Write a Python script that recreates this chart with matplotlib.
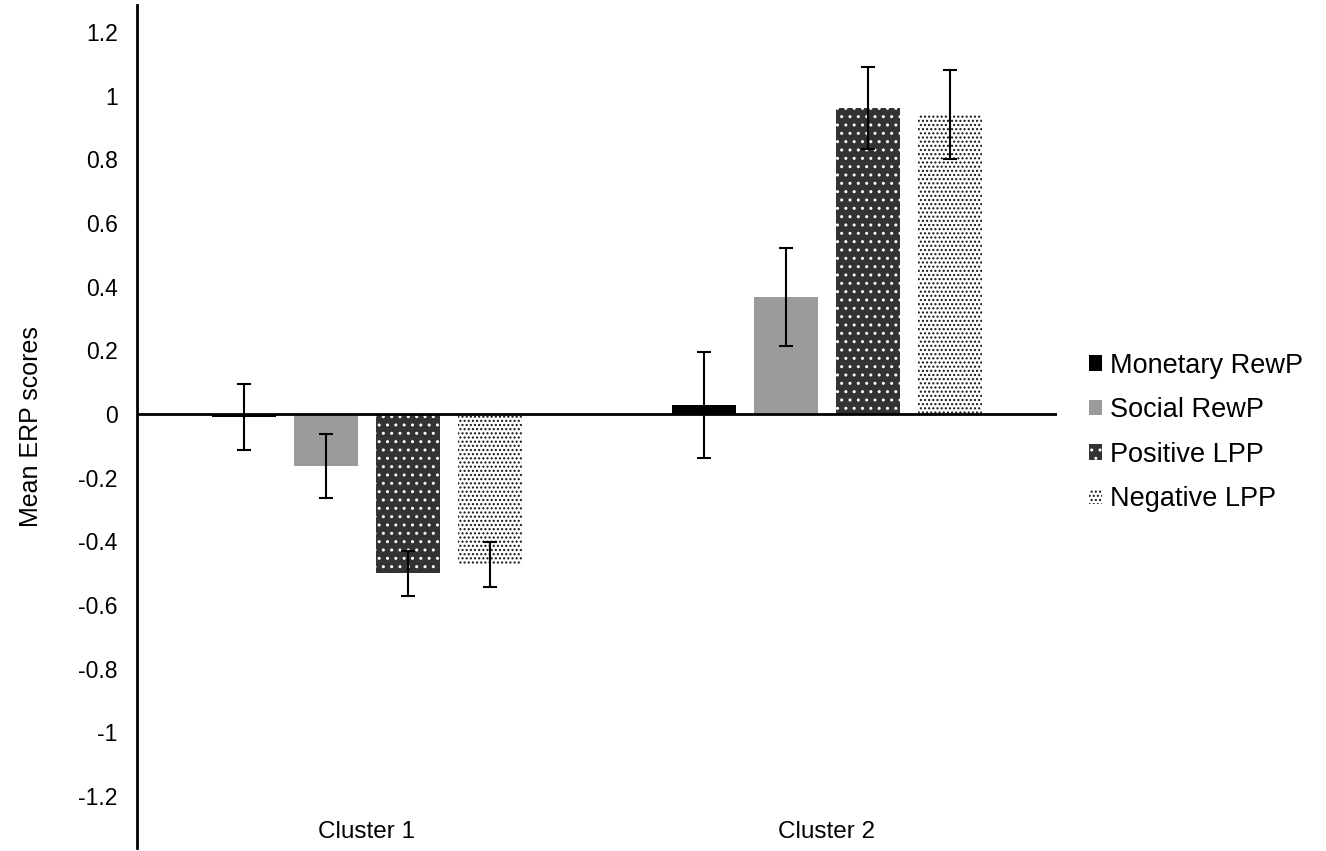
import numpy as np
import matplotlib
matplotlib.use("Agg")
import matplotlib.pyplot as plt

plt.rcParams['font.family'] = ['Liberation Sans', 'DejaVu Sans']
plt.rcParams['hatch.linewidth'] = 1.0

clusters = ["Cluster 1", "Cluster 2"]
series = ["Monetary RewP", "Social RewP", "Positive LPP", "Negative LPP"]
monetary = [-0.01, 0.028]
social = [-0.163, 0.368]
positive = [-0.50, 0.961]
negative = [-0.473, 0.941]
monetary_err = [0.104, 0.166]
social_err = [0.10, 0.155]
positive_err = [0.07, 0.128]
negative_err = [0.07, 0.14]

values = [monetary, social, positive, negative]
errors = [monetary_err, social_err, positive_err, negative_err]
# face, hatch colour, hatch
styles = [
    ("black", "black", None),
    ("#9b9b9b", "#9b9b9b", None),
    ("#333333", "white", ".."),
    ("white", "#111111", "...."),
]

fig = plt.figure(figsize=(13.26, 8.51), dpi=100)
ax = fig.add_axes([0.1033, 0.0035, 0.6938, 0.9906])

x = np.arange(len(clusters))
step = 0.178
width = 0.139
for i, (name, vals, errs) in enumerate(zip(series, values, errors)):
    face, hcol, hatch = styles[i]
    pos = x + (i - 1.5) * step
    ax.bar(pos, vals, width, color=face, edgecolor=hcol, linewidth=0,
           hatch=hatch, label=name, zorder=2)
    ax.errorbar(pos, vals, yerr=errs, fmt="none", ecolor="black",
                elinewidth=1.5, capsize=5, capthick=1.5, zorder=3)

ax.axhline(0, color="black", lw=2, zorder=4)
ax.set_xlim(-0.5, 1.5)
ax.set_ylim(-1.363, 1.285)
ticks = np.arange(-1.2, 1.21, 0.2)
ax.set_yticks(ticks)
ax.set_yticklabels([("%g" % round(v, 1)) if abs(v) > 1e-9 else "0" for v in ticks])
ax.tick_params(axis="y", length=0, pad=14, labelsize=16.5)
ax.set_xticks(x)
ax.set_xticklabels(clusters)
ax.tick_params(axis="x", length=0, pad=-19.5, labelsize=17.5)

for s in ["top", "right", "bottom"]:
    ax.spines[s].set_visible(False)
ax.spines["left"].set_linewidth(2)

ax.set_ylabel("Mean ERP scores", fontsize=18, labelpad=25)

leg = ax.legend(loc="center left", bbox_to_anchor=(1.008, 0.493), frameon=False,
                fontsize=19.5, handlelength=0.5, handleheight=0.5,
                handletextpad=0.3, labelspacing=0.68)

fig.savefig("out.png", dpi=100)
